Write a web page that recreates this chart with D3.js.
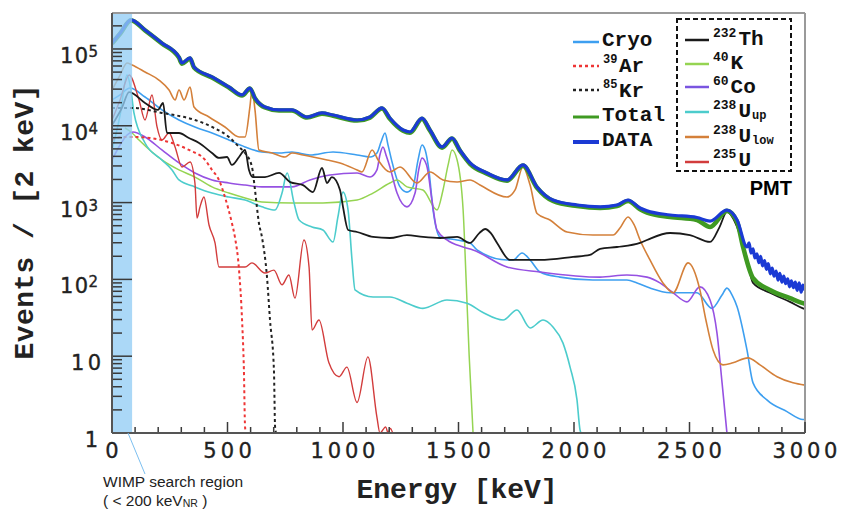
<!DOCTYPE html>
<html><head><meta charset="utf-8">
<script src="https://cdn.jsdelivr.net/npm/d3@7"></script>
<style>body{margin:0;background:#fff;} svg{display:block}</style>
</head><body>
<svg id="c" width="843" height="510"></svg>
<script>
// ---------- data (energy keV, events / 2 keV) ----------
const xTicks = [0,500,1000,1500,2000,2500,3000];
const yTicks = [1,10,100,1000,10000,100000];
const yTickLabels = [["1",""],["10",""],["10","2"],["10","3"],["10","4"],["10","5"]];
const wimpRegion = [0, 87];

const dataSpec = [[0,120000],[35,160000],[82,239000],[143,177000],[216,120000],[290,78700],[303,65800],[338,76400],[355,58300],[433,43200],[506,32000],[563,25200],[597,31000],[619,23000],[662,17600],[723,16100],[779,16100],[844,13000],[909,14700],[957,13800],[1061,11900],[1117,13000],[1169,17100],[1203,12600],[1260,8810],[1290,8300],[1342,12600],[1377,8810],[1429,5300],[1472,6930],[1506,4840],[1550,3280],[1623,2430],[1710,1970],[1779,3090],[1840,1600],[1909,1080],[2013,930],[2113,880],[2186,930],[2234,1080],[2286,850],[2316,780],[2416,690],[2532,640],[2589,575],[2662,800],[2706,593],[2749,264],[2758,300],[2766,220],[2775,250],[2783,190],[2792,215],[2800,165],[2808,200],[2816,150],[2825,175],[2833,135],[2841,160],[2850,118],[2858,140],[2866,110],[2875,128],[2883,98],[2891,120],[2900,92],[2908,110],[2916,88],[2925,102],[2933,80],[2941,96],[2950,78],[2958,92],[2966,72],[2975,90],[2983,68],[2991,84],[3000,72]];
const total = [[0,118000],[35,158000],[82,236000],[143,175000],[216,118000],[290,77000],[303,64500],[338,75000],[355,57500],[433,42500],[506,31500],[563,24800],[597,30500],[619,22600],[662,17300],[723,15800],[779,15800],[844,12800],[909,14400],[957,13500],[1061,11700],[1117,12800],[1169,16800],[1203,12300],[1260,8600],[1290,8100],[1342,12300],[1377,8600],[1429,5200],[1472,6800],[1506,4750],[1550,3200],[1623,2380],[1710,1930],[1779,3030],[1840,1560],[1909,1050],[2013,900],[2113,850],[2186,900],[2234,1050],[2286,820],[2316,740],[2416,650],[2532,593],[2589,481],[2662,780],[2706,560],[2732,264],[2775,104],[2848,73],[2935,57],[2991,49],[3000,48]];
const cryo = [[0,21700],[35,25200],[78,31000],[143,23700],[216,16100],[290,11900],[359,9650],[433,8050],[506,6530],[576,5300],[649,4560],[723,4420],[779,4560],[857,4170],[957,4560],[1061,4170],[1117,3920],[1147,4420],[1165,6200],[1182,8050],[1195,5600],[1210,3600],[1247,1600],[1277,1370],[1303,1600],[1325,3600],[1342,5620],[1356,4800],[1372,2600],[1390,800],[1420,357],[1494,326],[1550,298],[1580,242],[1710,179],[1736,179],[1775,221],[1810,179],[1853,125],[1939,107],[2082,98],[2229,98],[2273,90],[2329,77],[2416,67],[2532,67],[2597,42],[2640,62],[2662,77],[2685,62],[2706,44],[2749,12],[2775,4.5],[2835,2.7],[2922,1.9],[2991,1.5],[3000,1.5]];
const ar39 = [[0,6530],[43,7150],[87,7150],[164,6930],[260,5970],[333,4840],[403,3590],[433,2660],[463,1970],[489,1180],[519,542],[532,357],[550,132],[563,29.6],[571,6.6],[576,1.2],[580,1],[3000,1]];
const kr85 = [[0,17100],[87,17100],[216,14700],[359,11900],[433,9650],[506,7150],[550,5300],[576,4420],[606,2910],[619,1460],[636,542],[649,357],[671,107],[684,29.6],[701,6.6],[706,1.2],[710,1]];
const th232 = [[0,10200],[43,17100],[74,27500],[143,19800],[199,16100],[221,19800],[238,8050],[290,8050],[333,6930],[377,5970],[433,4420],[463,3810],[498,3920],[519,3090],[550,3920],[576,4840],[593,2660],[610,2150],[662,2150],[723,2430],[771,1850],[827,1690],[870,1370],[909,2820],[931,1800],[952,2150],[987,1460],[1000,880],[1022,440],[1061,414],[1130,357],[1203,346],[1277,378],[1346,357],[1420,346],[1494,357],[1550,298],[1590,400],[1615,453],[1640,400],[1667,298],[1723,179],[1853,179],[1996,196],[2069,208],[2113,250],[2186,264],[2286,298],[2316,326],[2416,402],[2502,378],[2589,307],[2630,480],[2662,755],[2685,650],[2706,481],[2749,179],[2775,90],[2848,67],[2935,51],[2991,42],[3000,41]];
const k40 = [[56,9360],[87,8050],[117,6530],[216,3590],[290,2660],[359,2150],[433,1600],[506,1330],[576,1150],[649,1020],[779,990],[913,990],[1061,1080],[1130,1330],[1203,1800],[1234,1970],[1277,1600],[1346,1460],[1407,800],[1433,1460],[1455,3090],[1472,4840],[1494,3590],[1520,800],[1533,98],[1546,10.4],[1563,1]];
const co60 = [[0,3590],[35,5620],[65,7590],[91,8300],[143,7150],[216,4840],[290,3280],[359,2430],[433,1970],[506,1800],[576,1690],[649,1600],[779,1600],[857,1970],[944,2290],[1061,2430],[1117,2150],[1147,2660],[1160,4200],[1173,5300],[1188,4000],[1203,2910],[1234,1330],[1277,880],[1312,1330],[1328,2700],[1342,3810],[1356,3400],[1364,2910],[1385,1080],[1407,440],[1450,326],[1520,264],[1563,242],[1710,145],[1853,125],[2113,107],[2229,114],[2316,107],[2372,90],[2429,67],[2489,51],[2545,80],[2589,54],[2619,20],[2641,4.5],[2662,1]];
const u238up = [[0,4840],[35,13800],[65,45800],[82,29200],[95,14700],[143,5970],[216,3590],[260,2660],[290,1970],[359,1600],[433,1330],[506,1180],[576,1080],[649,880],[706,800],[736,1330],[758,2430],[788,990],[810,593],[866,481],[913,440],[957,307],[978,650],[1000,1370],[1022,800],[1039,179],[1052,73],[1130,59],[1203,59],[1277,49],[1346,42],[1450,54],[1537,49],[1606,37],[1693,29.6],[1753,40],[1810,23.3],[1866,29.6],[1909,24],[1952,14.9],[1983,7.2],[2013,2.7],[2026,1.1],[2030,1]];
const u238low = [[0,29200],[35,45800],[65,65800],[87,62000],[143,50200],[203,39400],[247,29200],[273,21700],[290,29200],[312,21700],[338,32000],[355,17600],[420,13000],[489,9650],[550,7150],[576,7150],[597,17600],[606,29200],[619,16100],[636,4840],[693,4420],[749,3920],[779,4420],[827,4170],[931,3590],[987,3280],[1061,2660],[1082,2500],[1126,4840],[1152,3590],[1203,2500],[1247,2910],[1320,1800],[1377,2500],[1433,1970],[1494,1850],[1550,1970],[1593,1690],[1710,1180],[1745,1460],[1779,2910],[1810,1690],[1840,720],[1896,593],[1970,414],[2082,378],[2169,378],[2199,467],[2234,650],[2260,515],[2286,326],[2329,179],[2385,90],[2429,67],[2494,164],[2545,73],[2571,29.6],[2602,12],[2645,7.7],[2688,8.2],[2753,9.5],[2805,7.7],[2879,5.4],[2948,4.5],[3000,4.2]];
const u235 = [[0,11900],[35,21700],[74,45800],[117,21700],[143,11900],[173,25200],[195,9650],[216,6530],[247,8050],[273,5300],[303,2910],[338,3380],[359,1800],[368,630],[381,880],[398,1180],[420,511],[446,298],[463,145],[519,145],[576,145],[606,164],[662,121],[701,132],[736,85],[766,114],[792,57],[831,326],[853,145],[866,21.9],[896,29.6],[939,8.2],[983,5.4],[1017,7.2],[1061,2.5],[1108,9.8],[1147,1.6],[1160,1],[1185,1.2],[1195,1],[1205,1.15],[1215,1]];

// ---------- layout ----------
const svg = d3.select("#c");
const X0 = 112, X1 = 805, Y0 = 433, Y1 = 13;
const x = d3.scaleLinear().domain([0,3000]).range([X0,X1]);
const y = d3.scaleLog().domain([1,2.94e5]).range([Y0,Y1]);

svg.append("defs").append("clipPath").attr("id","clip")
  .append("rect").attr("x",X0).attr("y",Y1).attr("width",X1-X0).attr("height",Y0-Y1+3);

const line = d3.line().x(d=>x(d[0])).y(d=>y(Math.max(d[1],1))).curve(d3.curveMonotoneX);
const g = svg.append("g").attr("clip-path","url(#clip)");

const series = [
  {d:cryo, c:"#3d9ff0", w:1.6},
  {d:k40, c:"#95d452", w:1.5},
  {d:co60, c:"#9651e2", w:1.6},
  {d:u238up, c:"#4ccccc", w:1.6},
  {d:u238low, c:"#d4803a", w:1.6},
  {d:u235, c:"#d23c3c", w:1.4},
  {d:th232, c:"#1a1a1a", w:1.8},
  {d:ar39, c:"#ee3535", w:2, dash:"3,3"},
  {d:kr85, c:"#222", w:2, dash:"3,3"},
  {d:total, c:"#3f9a22", w:4.6},
  {d:dataSpec, c:"#1b3ad4", w:3.2}
];
series.forEach(s=>{
  g.append("path").attr("d",line(s.d)).attr("fill","none")
   .attr("stroke",s.c).attr("stroke-width",s.w)
   .attr("stroke-dasharray",s.dash||null).attr("stroke-linejoin","round");
});

// WIMP shading
svg.append("rect").attr("x",x(wimpRegion[0])).attr("y",Y1)
  .attr("width",x(wimpRegion[1])-x(wimpRegion[0])).attr("height",Y0-Y1)
  .attr("fill","#93cdf5").attr("opacity",0.78);

// frame
svg.append("line").attr("x1",X0).attr("x2",X1).attr("y1",Y1).attr("y2",Y1).attr("stroke","#9a9a9a").attr("stroke-width",2);
svg.append("line").attr("x1",X1).attr("x2",X1).attr("y1",Y1).attr("y2",Y0).attr("stroke","#9a9a9a").attr("stroke-width",2);

// axes (ticks inward)
const ax = svg.append("g").attr("stroke","#3a3a3a").attr("stroke-width",1.5);
d3.range(0,3001,100).forEach(v=>{
  const major = v%500===0;
  ax.append("line").attr("x1",x(v)).attr("x2",x(v)).attr("y1",Y0).attr("y2",Y0-(major?11:6));
});
for(let e=0;e<=5;e++){
  for(let m=1;m<=9;m++){
    const v=m*Math.pow(10,e);
    if(v>2.94e5) continue;
    ax.append("line").attr("x1",X0).attr("x2",X0+(m===1?20:10)).attr("y1",y(v)).attr("y2",y(v));
  }
}
svg.append("line").attr("x1",X0).attr("x2",X1).attr("y1",Y0).attr("y2",Y0).attr("stroke","#555").attr("stroke-width",2);
svg.append("line").attr("x1",X0).attr("x2",X0).attr("y1",Y1).attr("y2",Y0).attr("stroke","#555").attr("stroke-width",2);

// tick labels
const tf = "'DejaVu Sans', Verdana, sans-serif";
function lbl(sel){ return sel.attr("font-family",tf).attr("fill","#222").attr("stroke","#222").attr("stroke-width",0.35); }
xTicks.forEach(v=>{
  const s=String(v);
  lbl(svg.append("text")).attr("x",x(v)).attr("y",458).attr("text-anchor","middle")
    .attr("font-size",21)
    .attr("textLength",s.length*16.2).attr("lengthAdjust","spacing").text(s);
});
yTicks.forEach((v,i)=>{
  const [base,sup]=yTickLabels[i];
  const yy=y(v);
  if(sup){
    lbl(svg.append("text")).attr("x",88).attr("y",yy+14).attr("text-anchor","end")
      .attr("font-size",21).attr("textLength",28).attr("lengthAdjust","spacing").text(base);
    lbl(svg.append("text")).attr("x",88.5).attr("y",yy+8).attr("font-size",15).text(sup);
  } else {
    lbl(svg.append("text")).attr("x",base.length>1?101:98).attr("y",yy+14).attr("text-anchor","end")
      .attr("font-size",21).attr("textLength",base.length*15).attr("lengthAdjust","spacing").text(base);
  }
});

// axis titles
const mono = "'Liberation Mono','DejaVu Sans Mono',monospace";
svg.append("text").attr("x",457).attr("y",498).attr("text-anchor","middle")
  .attr("font-family",mono).attr("font-weight","bold").attr("font-size",28).attr("fill","#222")
  .attr("textLength",201).attr("lengthAdjust","spacing").text("Energy [keV]");
svg.append("text").attr("transform","translate(33,222) rotate(-90)").attr("text-anchor","middle")
  .attr("font-family",mono).attr("font-weight","bold").attr("font-size",28).attr("fill","#222")
  .attr("textLength",275).attr("lengthAdjust","spacing").text("Events / [2 keV]");

// legend left
const legL = [
  {sup:"",t:"Cryo",c:"#3d9ff0",w:2.5,ly:42,by:46},
  {sup:"39",t:"Ar",c:"#ee3535",w:2.5,dash:"3,3",ly:66,by:72},
  {sup:"85",t:"Kr",c:"#222",w:2.5,dash:"3,3",ly:90,by:97},
  {sup:"",t:"Total",c:"#3f9a22",w:3,ly:117,by:121},
  {sup:"",t:"DATA",c:"#1b3ad4",w:4,ly:142,by:146}
];
legL.forEach(l=>{
  svg.append("line").attr("x1",573).attr("x2",599).attr("y1",l.ly).attr("y2",l.ly)
    .attr("stroke",l.c).attr("stroke-width",l.w).attr("stroke-dasharray",l.dash||null);
  if(l.sup){
    svg.append("text").attr("x",603).attr("y",l.by-9).attr("font-family",mono).attr("font-weight","bold")
      .attr("font-size",12).attr("fill","#111").text(l.sup);
    svg.append("text").attr("x",619).attr("y",l.by).attr("font-family",mono).attr("font-weight","bold")
      .attr("font-size",21).attr("fill","#111").text(l.t);
  } else {
    svg.append("text").attr("x",602).attr("y",l.by).attr("font-family",mono).attr("font-weight","bold")
      .attr("font-size",21).attr("fill","#111").text(l.t);
  }
});

// legend right (PMT)
svg.append("rect").attr("x",677).attr("y",19).attr("width",114).attr("height",152)
  .attr("fill","none").attr("stroke","#111").attr("stroke-width",2).attr("stroke-dasharray","5,3");
const legR = [
  {sup:"232",t:"Th",sub:"",c:"#1a1a1a",ly:40,by:45},
  {sup:"40",t:"K",sub:"",c:"#95d452",ly:64,by:69},
  {sup:"60",t:"Co",sub:"",c:"#7a55e0",ly:87,by:93},
  {sup:"238",t:"U",sub:"up",c:"#4ccccc",ly:112,by:117},
  {sup:"238",t:"U",sub:"low",c:"#d4803a",ly:137,by:142},
  {sup:"235",t:"U",sub:"",c:"#d23c3c",ly:162,by:166}
];
legR.forEach(l=>{
  svg.append("line").attr("x1",685).attr("x2",709).attr("y1",l.ly).attr("y2",l.ly)
    .attr("stroke",l.c).attr("stroke-width",2.5);
  svg.append("text").attr("x",713).attr("y",l.by-8).attr("font-family",mono).attr("font-weight","bold")
    .attr("font-size",13).attr("fill","#111").text(l.sup);
  const mx = 713 + l.sup.length*7.8 + 2;
  svg.append("text").attr("x",mx).attr("y",l.by).attr("font-family",mono).attr("font-weight","bold")
    .attr("font-size",21).attr("fill","#111").text(l.t);
  if(l.sub){
    svg.append("text").attr("x",mx+l.t.length*12.6+1).attr("y",l.by+2).attr("font-family",mono).attr("font-weight","bold")
      .attr("font-size",12).attr("fill","#111").text(l.sub);
  }
});
svg.append("text").attr("x",792).attr("y",195).attr("text-anchor","end")
  .attr("font-family","'Liberation Sans',Arial,sans-serif").attr("font-weight","bold")
  .attr("font-size",20).attr("fill","#000").text("PMT");

// WIMP annotation
svg.append("line").attr("x1",128).attr("y1",Y0).attr("x2",145).attr("y2",474)
  .attr("stroke","#7cbff0").attr("stroke-width",1);
const sf="'Liberation Sans',Arial,sans-serif";
svg.append("text").attr("x",103).attr("y",487).attr("font-family",sf).attr("font-size",15.5)
  .attr("fill","#222").text("WIMP search region");
const t2 = svg.append("text").attr("x",103).attr("y",506).attr("font-family",sf).attr("font-size",15.5).attr("fill","#222");
t2.append("tspan").text("( < 200 keV");
t2.append("tspan").attr("font-size",10.5).attr("dy",1).text("NR");
t2.append("tspan").attr("dy",-1).text(" )");
</script>
</body></html>
